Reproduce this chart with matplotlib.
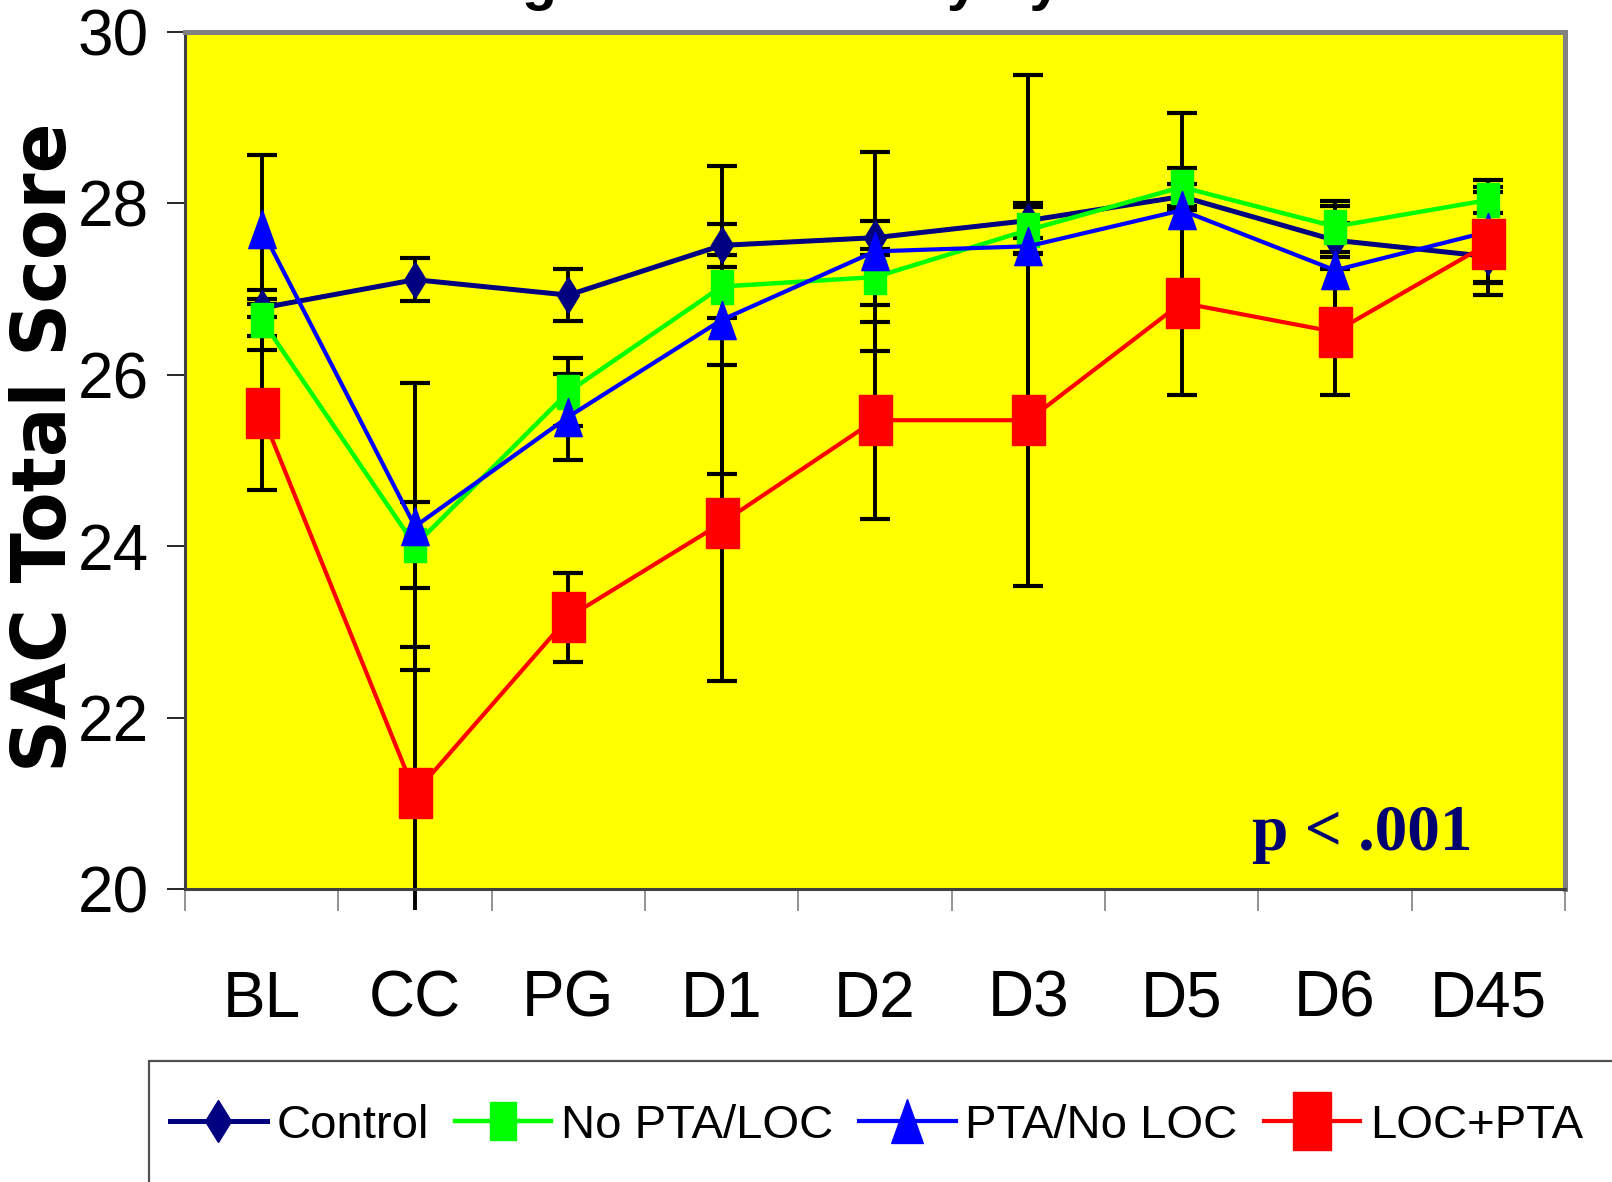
import matplotlib
matplotlib.use('Agg')
import matplotlib.pyplot as plt
import numpy as np
from matplotlib.patches import Rectangle
from matplotlib.transforms import Bbox, TransformedBbox

# SAC scores by time point and injury group (means and SDs)
timepoints = ['BL', 'CC', 'PG', 'D1', 'D2', 'D3', 'D5', 'D6', 'D45']

control = [26.78, 27.11, 26.93, 27.51, 27.60, 27.80, 28.08, 27.57, 27.38]
control_sd = [0.10, 0.25, 0.30, 0.25, 0.20, 0.20, 0.15, 0.20, 0.30]

no_pta_loc = [26.64, 24.01, 25.80, 27.03, 27.14, 27.69, 28.19, 27.73, 28.04]
no_pta_loc_sd = [0.35, 0.50, 0.40, 0.37, 0.33, 0.27, 0.22, 0.30, 0.15]

pta_no_loc = [27.70, 24.23, 25.51, 26.64, 27.44, 27.50, 27.92, 27.22, 27.67]
pta_no_loc_sd = [0.87, 1.67, 0.50, 1.80, 1.16, 2.00, 1.13, 0.75, 0.60]

loc_pta = [25.55, 21.12, 23.17, 24.27, 25.47, 25.47, 26.84, 26.50, 27.53]
loc_pta_sd = [0.90, 1.70, 0.52, 1.84, 1.15, 1.94, 1.08, 0.74, 0.60]

sans = ['Liberation Sans', 'DejaVu Sans']

# tall markers, like the stretched excel picture
tall_rect = [(-0.33, -0.5), (0.33, -0.5), (0.33, 0.5), (-0.33, 0.5), (-0.33, -0.5)]
tall_tri = [(0, 0.5), (-0.36, -0.5), (0.36, -0.5), (0, 0.5)]

fig = plt.figure(figsize=(16.12, 11.82), dpi=100)
ax = fig.add_axes([185 / 1612, 1 - 889 / 1182, 1380 / 1612, 857 / 1182])
ax.set_facecolor('#FFFF00')

x = np.arange(len(timepoints))
groups = [
    ('Control', control, control_sd, '#000080', 'd', 18.5, 3.6),
    ('No PTA/LOC', no_pta_loc, no_pta_loc_sd, '#00FF00', tall_rect, 24, 3.2),
    ('PTA/No LOC', pta_no_loc, pta_no_loc_sd, '#0000FF', tall_tri, 27.5, 3.0),
    ('LOC+PTA', loc_pta, loc_pta_sd, '#FF0000', tall_rect, 36, 3.0),
]

# error bars may run a bit past the bottom axis, as in the original
clip = TransformedBbox(Bbox([[0, -0.025], [1, 1]]), ax.transAxes)
for name, vals, sd, col, mk, ms, lw in groups:
    eb = ax.errorbar(x, vals, yerr=sd, fmt='none', ecolor='black',
                     elinewidth=2.8, capsize=11, capthick=3, zorder=2)
    for art in eb.get_children():
        art.set_clip_path(None)
        art.set_clip_box(clip)

handles = []
for name, vals, sd, col, mk, ms, lw in groups:
    line, = ax.plot(x, vals, color=col, lw=lw, marker=mk, markersize=ms,
                    markerfacecolor=col, markeredgecolor=col, markeredgewidth=1,
                    label=name, zorder=3)
    handles.append(line)

ax.set_xlim(-0.5, 8.5)
ax.set_ylim(20, 30)
ax.set_yticks(np.arange(20, 31, 2))
ax.set_yticklabels([str(v) for v in range(20, 31, 2)], family=sans, fontsize=46)
ax.tick_params(axis='y', length=13, width=1.2, pad=13, direction='out')

ax.set_xticks(x)
ax.set_xticklabels(timepoints, family=sans, fontsize=46)
ax.tick_params(axis='x', which='major', length=0, pad=58)
ax.set_xticks(np.arange(-0.5, 9, 1), minor=True)
ax.tick_params(axis='x', which='minor', length=16, width=1.2,
               color='#808080', direction='out')

for side in ['top', 'right']:
    ax.spines[side].set_color('#808080')
    ax.spines[side].set_linewidth(3.6)
for side in ['left', 'bottom']:
    ax.spines[side].set_color('#404040')
    ax.spines[side].set_linewidth(2.2)

ax.text(0.773, 0.0455, 'p < .001', transform=ax.transAxes, ha='left',
        va='baseline', fontsize=47, fontweight='bold',
        family='Liberation Serif', color='#000070')

fig.text(46 / 1612, 1 - 447 / 1182, 'SAC Total Score', rotation=90,
         ha='center', va='center', fontsize=53, fontweight='bold',
         family='DejaVu Sans')

# title is cut off by the top edge in the original
fig.text(884 / 1612, 1.001, 'Cognitive Recovery by LOC/PTA', ha='center',
         va='baseline', fontsize=41, fontweight='bold', family='Liberation Sans')

# legend box runs off the bottom and right of the picture
fig.add_artist(Rectangle((149 / 1612, -0.1), 2, 1 - 1061 / 1182 + 0.1,
                         transform=fig.transFigure, fill=False,
                         edgecolor='#505050', lw=1.6, clip_on=False))
fig.legend(handles=handles, loc='center left',
           bbox_to_anchor=(170 / 1612, 1 - 1126 / 1182), ncol=4,
           frameon=False, prop={'family': sans, 'size': 34},
           handlelength=2.05, handletextpad=0.2, columnspacing=0.55,
           borderaxespad=0, borderpad=0, markerscale=1.15)

fig.savefig('out.png', dpi=100)
